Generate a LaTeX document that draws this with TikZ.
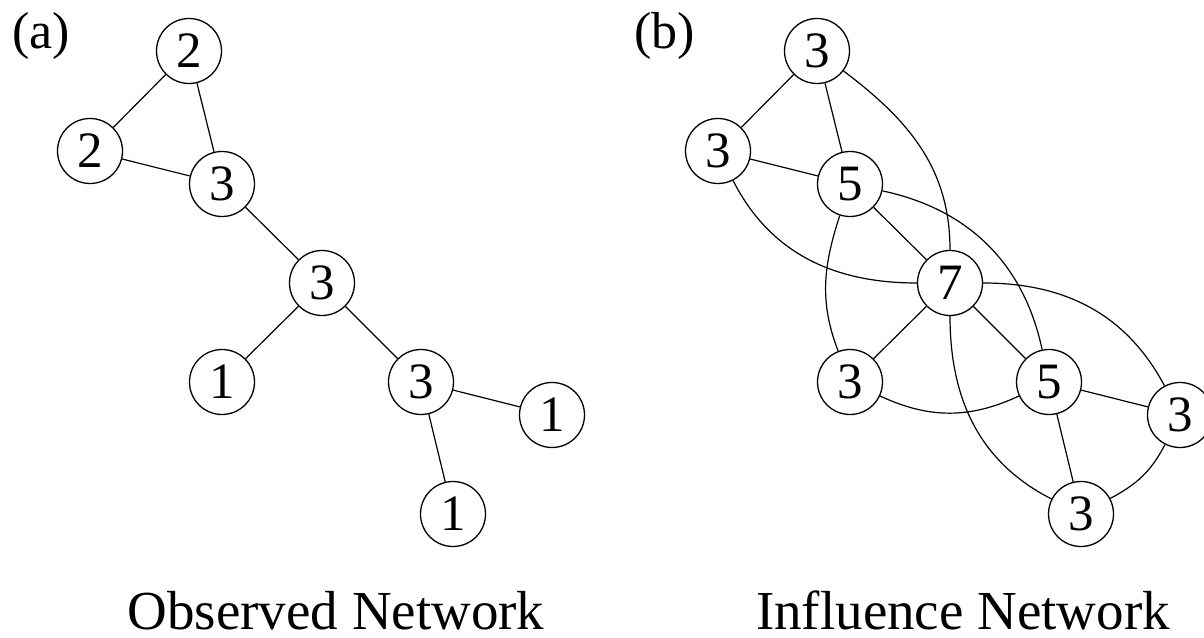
\documentclass[tikz,border=0pt]{standalone}
\usepackage{fontspec}
\setmainfont{Liberation Serif}
\begin{document}
\begin{tikzpicture}[x=1pt,y=1pt,
  vtx/.style={draw,circle,line width=1.3pt,minimum size=65pt,inner sep=0pt,fill=white,font=\fontsize{51}{54}\selectfont},
  edge/.style={line width=1.2pt},
  lbl/.style={inner sep=0pt,anchor=base west,font=\fontsize{52}{56}\selectfont},
  captxt/.style={inner sep=0pt,anchor=base,font=\fontsize{55}{58}\selectfont}]
\useasboundingbox (0,0) rectangle (1204,637);
% (a) observed network
\node[vtx] (a1) at (189,586) {2};
\node[vtx] (a2) at (90,486) {2};
\node[vtx] (a3) at (222,453) {3};
\node[vtx] (a4) at (322,354) {3};
\node[vtx] (a5) at (222,255) {1};
\node[vtx] (a6) at (421,255) {3};
\node[vtx] (a7) at (552,222) {1};
\node[vtx] (a8) at (453,123) {1};
\draw[edge] (a1) -- (a2);
\draw[edge] (a1) -- (a3);
\draw[edge] (a2) -- (a3);
\draw[edge] (a3) -- (a4);
\draw[edge] (a4) -- (a5);
\draw[edge] (a4) -- (a6);
\draw[edge] (a6) -- (a7);
\draw[edge] (a6) -- (a8);
% (b) influence network
\node[vtx] (b1) at (817,586) {3};
\node[vtx] (b2) at (718,486) {3};
\node[vtx] (b3) at (850,453) {5};
\node[vtx] (b4) at (950,354) {7};
\node[vtx] (b5) at (850,255) {3};
\node[vtx] (b6) at (1049,255) {5};
\node[vtx] (b7) at (1180,222) {3};
\node[vtx] (b8) at (1081,123) {3};
\draw[edge] (b1) -- (b2);
\draw[edge] (b1) -- (b3);
\draw[edge] (b2) -- (b3);
\draw[edge] (b3) -- (b4);
\draw[edge] (b4) -- (b5);
\draw[edge] (b4) -- (b6);
\draw[edge] (b6) -- (b7);
\draw[edge] (b6) -- (b8);
\draw[edge] (b1) to[out=-37,in=90] (b4);
\draw[edge] (b2) to[out=-63,in=180] (b4);
\draw[edge] (b3) to[out=-108,in=111] (b5);
\draw[edge] (b3) to[out=-12,in=102] (b6);
\draw[edge] (b4) to[out=0,in=118] (b7);
\draw[edge] (b4) to[out=-90,in=153] (b8);
\draw[edge] (b5) to[out=-25,in=-155] (b6);
\draw[edge] (b7) to[out=-117,in=28] (b8);
% labels
\node[lbl] (la) at (12,588) {(a)};
\node[lbl] (lb) at (634,588) {(b)};
\node[captxt] (ca) at (336,8) {Observed Network};
\node[captxt] (cb) at (963,8) {Influence Network};
\end{tikzpicture}
\end{document}
